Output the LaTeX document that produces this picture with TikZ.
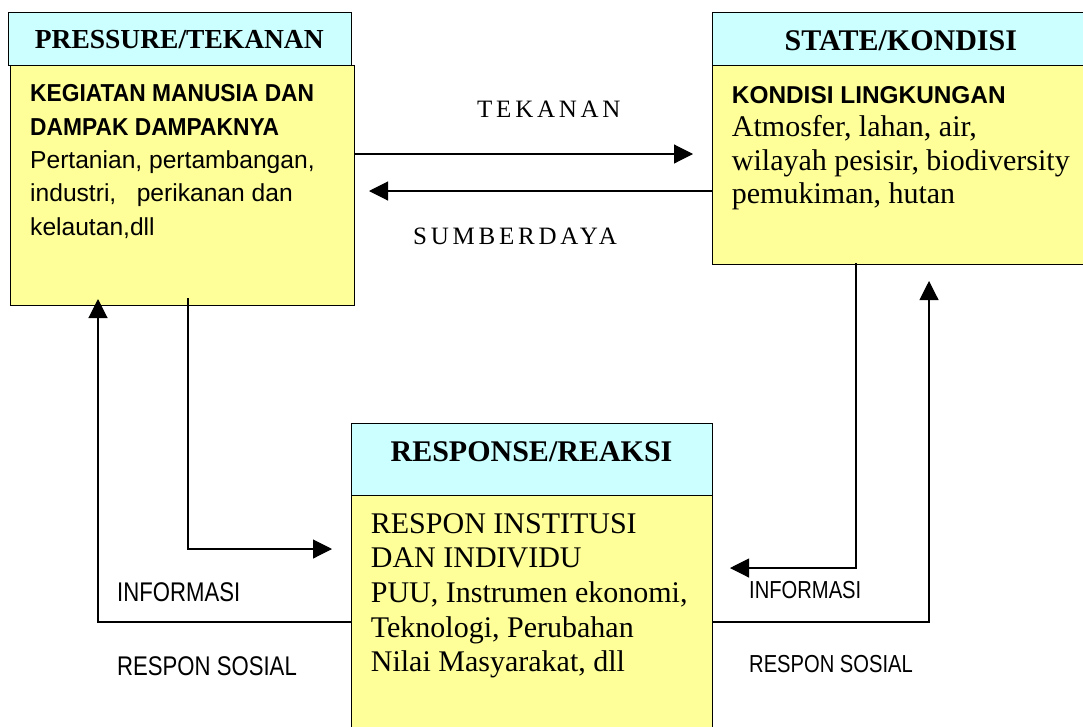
\documentclass[tikz,border=0pt]{standalone}
\usepackage{fontspec}
\setmainfont{Liberation Serif}
\newfontfamily\arialfont{Liberation Sans}
\newfontfamily\arialcond[FakeStretch=0.93]{Liberation Sans}
\newfontfamily\narrowfont[FakeStretch=0.82]{Liberation Sans}
\newfontfamily\spacedfont[LetterSpace=15]{Liberation Serif}
\usetikzlibrary{arrows.meta}
\definecolor{headcyan}{HTML}{CCFFFF}
\definecolor{bodyyellow}{HTML}{FFFF99}
\begin{document}
\begin{tikzpicture}[x=1pt,y=-1pt,
  boxline/.style={draw=black, line width=1.3pt, inner sep=0pt, anchor=north west},
  hdr/.style={boxline, fill=headcyan},
  bod/.style={boxline, fill=bodyyellow},
  link/.style={line width=1.1pt, -{Triangle[length=19pt,width=19pt]}},
  txt/.style={inner sep=0pt, anchor=base west, align=left},
  ttl/.style={inner sep=0pt, anchor=base, font=\bfseries\fontsize{30}{34}\selectfont},
  lbl/.style={inner sep=0pt, anchor=base west},
]
\useasboundingbox (0,0) rectangle (1083,726);
\fill[white] (0,0) rectangle (1083,726);

% boxes
\node[bod, minimum width=343.5pt, minimum height=240pt] (pbody) at (10,65) {};
\node[hdr, minimum width=343.5pt, minimum height=53pt] (phead) at (7.5,12) {};
\node[bod, minimum width=378pt, minimum height=199pt] (sbody) at (712,65) {};
\node[hdr, minimum width=378pt, minimum height=53pt] (shead) at (712,12) {};
\node[bod, minimum width=361pt, minimum height=240pt] (rbody) at (351,495) {};
\node[hdr, minimum width=361pt, minimum height=72pt] (rhead) at (351,423) {};

% titles
\node[ttl, font=\bfseries\fontsize{27.5}{34}\selectfont] (ptitle) at (179.3,48.3) {PRESSURE/TEKANAN};
\node[ttl] (stitle) at (900.8,50) {STATE/KONDISI};
\node[ttl] (rtitle) at (531.5,461.7) {RESPONSE/REAKSI};

% box texts (anchored at the baseline of their last line)
\node[txt, font=\arialfont\fontsize{24.6}{33.3}\selectfont] (ptext) at (30,235)
  {{\arialcond\bfseries\fontsize{24.5}{33.3}\selectfont KEGIATAN MANUSIA DAN}\\
   {\arialcond\bfseries\fontsize{24.5}{33.3}\selectfont DAMPAK DAMPAKNYA}\\
   Pertanian, pertambangan,\\ industri,\ \ \ perikanan dan\\ kelautan,dll};
\node[txt, font=\fontsize{30}{33.3}\selectfont] (stext) at (731.7,203.3)
  {{\arialfont\bfseries\fontsize{24.4}{33.3}\selectfont KONDISI LINGKUNGAN}\\ Atmosfer, lahan, air,\\ wilayah pesisir, biodiversity\\ pemukiman, hutan};
\node[txt, font=\fontsize{30}{34.6}\selectfont] (rtext) at (370.7,671.7)
  {RESPON INSTITUSI\\ DAN INDIVIDU\\ PUU, Instrumen ekonomi,\\ Teknologi, Perubahan\\ Nilai Masyarakat, dll};

% free ends of connectors
\coordinate (tekEnd) at (693,154);
\coordinate (sumEnd) at (369,191);
\coordinate (pEnd) at (332,549);
\coordinate (pRetEnd) at (98,299);
\coordinate (sEnd) at (730,568);
\coordinate (sRetEnd) at (929,281);

% connectors
\draw[link] (pbody.east |- 0,154) -- (tekEnd);
\draw[link] (sbody.west |- 0,191) -- (sumEnd);
\draw[link] ([yshift=8pt]pbody.south -| 188,0) |- (pEnd);
\draw[link] (rbody.west |- 0,622) -| (pRetEnd);
\draw[link] ([yshift=2pt]sbody.south -| 856,0) |- (sEnd);
\draw[link] (rbody.east |- 0,622) -| (sRetEnd);

% connector labels
\node[lbl, font=\spacedfont\fontsize{25}{30}\selectfont] (ltek) at (477,117.3) {TEKANAN};
\node[lbl, font=\spacedfont\fontsize{25}{30}\selectfont] (lsum) at (413,244.3) {SUMBERDAYA};
\node[lbl, font=\narrowfont\fontsize{27}{30}\selectfont] (linfo1) at (117,601.7) {INFORMASI};
\node[lbl, font=\narrowfont\fontsize{27}{30}\selectfont] (lresp1) at (117,675) {RESPON SOSIAL};
\node[lbl, font=\narrowfont\fontsize{24.6}{30}\selectfont] (linfo2) at (749,598.3) {INFORMASI};
\node[lbl, font=\narrowfont\fontsize{24.6}{30}\selectfont] (lresp2) at (749,672) {RESPON SOSIAL};
\end{tikzpicture}
\end{document}
